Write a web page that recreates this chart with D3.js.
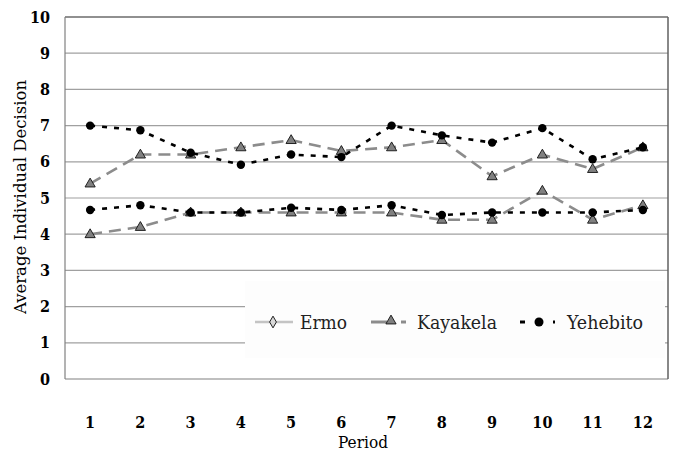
<!DOCTYPE html>
<html>
<head>
<meta charset="utf-8">
<script src="https://cdn.jsdelivr.net/npm/d3@7"></script>
<style>
body { margin: 0; background: #fff; }
</style>
</head>
<body>
<script>
var periods = [1, 2, 3, 4, 5, 6, 7, 8, 9, 10, 11, 12];
var yTicks = [0, 1, 2, 3, 4, 5, 6, 7, 8, 9, 10];

// two sessions per group
var kayakelaHigh = [5.4, 6.2, 6.2, 6.4, 6.6, 6.3, 6.4, 6.6, 5.6, 6.2, 5.8, 6.4];
var kayakelaLow  = [4.0, 4.2, 4.6, 4.6, 4.6, 4.6, 4.6, 4.4, 4.4, 5.2, 4.4, 4.8];
var yehebitoHigh = [7.0, 6.87, 6.25, 5.92, 6.2, 6.13, 7.0, 6.73, 6.53, 6.93, 6.07, 6.4];
var yehebitoLow  = [4.67, 4.8, 4.6, 4.6, 4.73, 4.67, 4.8, 4.53, 4.6, 4.6, 4.6, 4.67];

var legendNames = ["Ermo", "Kayakela", "Yehebito"];

var svg = d3.select("body").append("svg")
  .attr("width", 678)
  .attr("height", 458)
  .attr("font-family", "'DejaVu Serif Condensed', 'DejaVu Serif', serif");

var margin = {top: 17, right: 10, bottom: 79, left: 65},
  width = 668 - margin.left,
  height = 379 - margin.top;

var g = svg.append("g").attr("transform", "translate(" + margin.left + "," + margin.top + ")");

var x = d3.scaleBand().domain(periods).range([0, width]);
var y = d3.scaleLinear().domain([0, 10]).range([height, 0]);

// gridlines
g.selectAll(".grid")
  .data(yTicks.filter(function(d) { return d > 0 && d < 10; }))
  .enter().append("line")
  .attr("x1", 0).attr("x2", width)
  .attr("y1", function(d) { return y(d); })
  .attr("y2", function(d) { return y(d); })
  .attr("stroke", "#a0a0a0")
  .attr("stroke-width", 1.2);

// frame
g.append("line").attr("x1", 0).attr("x2", width).attr("y1", 0).attr("y2", 0).attr("stroke", "#222").attr("stroke-width", 1.2);
g.append("line").attr("x1", 0).attr("x2", width).attr("y1", height).attr("y2", height).attr("stroke", "#808080").attr("stroke-width", 1.2);
g.append("line").attr("x1", 0).attr("x2", 0).attr("y1", 0).attr("y2", height).attr("stroke", "#808080").attr("stroke-width", 1.2);
g.append("line").attr("x1", width).attr("x2", width).attr("y1", 0).attr("y2", height).attr("stroke", "#606060").attr("stroke-width", 1.5);

// y tick labels
g.selectAll(".ylab")
  .data(yTicks)
  .enter().append("text")
  .attr("x", -15)
  .attr("y", function(d) { return y(d); })
  .attr("dy", "0.35em")
  .attr("text-anchor", "end")
  .attr("font-size", 16)
  .attr("font-weight", "bold")
  .text(function(d) { return d; });

// x tick labels
g.selectAll(".xlab")
  .data(periods)
  .enter().append("text")
  .attr("x", function(d) { return x(d) + x.bandwidth() / 2; })
  .attr("y", 422 - margin.top)
  .attr("dy", "0.35em")
  .attr("text-anchor", "middle")
  .attr("font-size", 16)
  .attr("font-weight", "bold")
  .text(function(d) { return d; });

svg.append("text")
  .attr("x", 363).attr("y", 442)
  .attr("dy", "0.35em")
  .attr("text-anchor", "middle")
  .attr("font-size", 17)
  .attr("textLength", 50)
  .attr("lengthAdjust", "spacingAndGlyphs")
  .text("Period");

svg.append("text")
  .attr("transform", "translate(20," + 197 + ") rotate(-90)")
  .attr("dy", "0.35em")
  .attr("text-anchor", "middle")
  .attr("font-size", 17)
  .attr("textLength", 234)
  .attr("lengthAdjust", "spacingAndGlyphs")
  .text("Average Individual Decision");

var line = d3.line()
  .x(function(d, i) { return x(periods[i]) + x.bandwidth() / 2; })
  .y(function(d) { return y(d); });

var triangle = d3.symbol().type(d3.symbolTriangle).size(45);

function drawKayakela(vals) {
  g.append("path")
    .datum(vals)
    .attr("d", line)
    .attr("fill", "none")
    .attr("stroke", "#8c8c8c")
    .attr("stroke-width", 2.6)
    .attr("stroke-dasharray", "12,7");
  g.selectAll(null)
    .data(vals)
    .enter().append("path")
    .attr("d", triangle)
    .attr("transform", function(d, i) { return "translate(" + (x(periods[i]) + x.bandwidth() / 2) + "," + (y(d) + 0.5) + ")"; })
    .attr("fill", "#808080")
    .attr("stroke", "#111")
    .attr("stroke-width", 0.9);
}

function drawYehebito(vals) {
  g.append("path")
    .datum(vals)
    .attr("d", line)
    .attr("fill", "none")
    .attr("stroke", "#000")
    .attr("stroke-width", 2.6)
    .attr("stroke-dasharray", "5,7");
  g.selectAll(null)
    .data(vals)
    .enter().append("circle")
    .attr("cx", function(d, i) { return x(periods[i]) + x.bandwidth() / 2; })
    .attr("cy", function(d) { return y(d); })
    .attr("r", 4.2)
    .attr("fill", "#000");
}

drawKayakela(kayakelaHigh);
drawKayakela(kayakelaLow);
drawYehebito(yehebitoHigh);
drawYehebito(yehebitoLow);

// legend
var lg = svg.append("g");
lg.append("rect")
  .attr("x", 245).attr("y", 281)
  .attr("width", 420).attr("height", 77)
  .attr("fill", "#fdfdfd");

var legendX = [255, 371, 520];
var textX = [300, 417, 567];
var textW = [47, 80, 76];
var ly = 322;

legendNames.forEach(function(name, i) {
  var item = lg.append("g");
  if (name === "Ermo") {
    item.append("line").attr("x1", legendX[i]).attr("x2", legendX[i] + 38)
      .attr("y1", ly).attr("y2", ly).attr("stroke", "#c4c4c4").attr("stroke-width", 2.6);
    item.append("path").attr("d", d3.symbol().type(d3.symbolDiamond).size(40))
      .attr("transform", "translate(" + (legendX[i] + 18) + "," + ly + ")")
      .attr("fill", "#d8d8d8").attr("stroke", "#222").attr("stroke-width", 1);
  } else if (name === "Kayakela") {
    item.append("line").attr("x1", legendX[i]).attr("x2", legendX[i] + 16)
      .attr("y1", ly).attr("y2", ly).attr("stroke", "#8c8c8c").attr("stroke-width", 3);
    item.append("line").attr("x1", legendX[i] + 30).attr("x2", legendX[i] + 35)
      .attr("y1", ly).attr("y2", ly).attr("stroke", "#8c8c8c").attr("stroke-width", 3);
    item.append("path").attr("d", triangle)
      .attr("transform", "translate(" + (legendX[i] + 20) + "," + (ly - 1) + ")")
      .attr("fill", "#808080").attr("stroke", "#111").attr("stroke-width", 0.9);
  } else {
    item.append("line").attr("x1", legendX[i]).attr("x2", legendX[i] + 5)
      .attr("y1", ly).attr("y2", ly).attr("stroke", "#000").attr("stroke-width", 3);
    item.append("line").attr("x1", legendX[i] + 33).attr("x2", legendX[i] + 35)
      .attr("y1", ly).attr("y2", ly).attr("stroke", "#000").attr("stroke-width", 3);
    item.append("circle").attr("cx", legendX[i] + 19).attr("cy", ly).attr("r", 4.5).attr("fill", "#000");
  }
  item.append("text")
    .attr("x", textX[i]).attr("y", ly)
    .attr("dy", "0.35em")
    .attr("font-size", 19)
    .attr("fill", "#222")
    .attr("textLength", textW[i])
    .attr("lengthAdjust", "spacingAndGlyphs")
    .text(name);
});
</script>
</body>
</html>
